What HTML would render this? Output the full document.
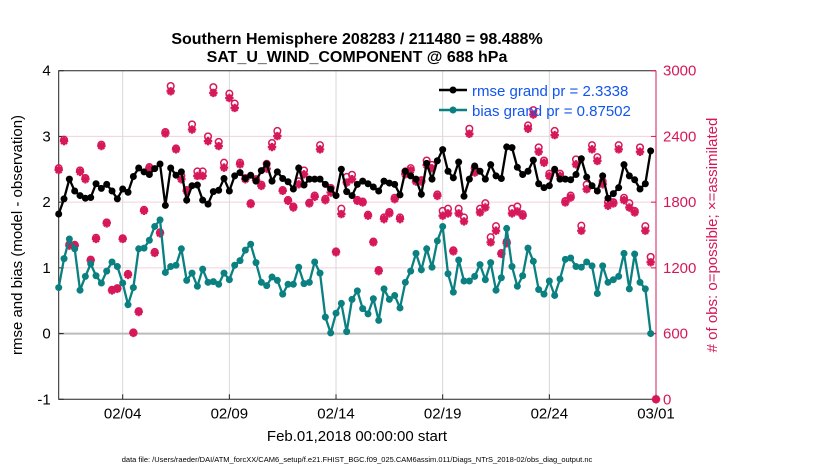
<!DOCTYPE html>
<html><head><meta charset="utf-8"><style>
body{margin:0;background:#fff;}
svg{display:block;font-family:"Liberation Sans",sans-serif;}
</style></head><body>
<svg id="chart" width="830" height="470">
<text x="357" y="44" text-anchor="middle" font-size="16" font-weight="bold">Southern Hemisphere 208283 / 211480 = 98.488%</text>
<text x="357" y="62" text-anchor="middle" font-size="16" font-weight="bold">SAT_U_WIND_COMPONENT @ 688 hPa</text>
<g id="grid"></g>
<g id="axes"></g>
<g id="marks"></g>
<text transform="translate(22,235) rotate(-90)" text-anchor="middle" font-size="15">rmse and bias (model - observation)</text>
<text transform="translate(717,235) rotate(-90)" text-anchor="middle" font-size="15" fill="#d6185a"># of obs: o=possible; ×=assimilated</text>
<text x="357" y="441" text-anchor="middle" font-size="15">Feb.01,2018 00:00:00 start</text>
<text x="357" y="462" text-anchor="middle" font-size="7.5">data file: /Users/raeder/DAI/ATM_forcXX/CAM6_setup/f.e21.FHIST_BGC.f09_025.CAM6assim.011/Diags_NTrS_2018-02/obs_diag_output.nc</text>
<g>
<line x1="439" y1="90" x2="467" y2="90" stroke="#000" stroke-width="2.5"/><circle cx="453" cy="90" r="3.5" fill="#000"/>
<text x="472" y="96" font-size="15" fill="#1155ee">rmse grand pr = 2.3338</text>
<line x1="439" y1="110" x2="467" y2="110" stroke="#0a8080" stroke-width="2.5"/><circle cx="453" cy="110" r="3.5" fill="#0a8080"/>
<text x="472" y="116" font-size="15" fill="#1155ee">bias grand pr = 0.87502</text>
</g>
</svg>
<script>
const xTickLabels=["02/04","02/09","02/14","02/19","02/24","03/01"];
const xTickDays=[3,8,13,18,23,28];
const leftTicks=[-1,0,1,2,3,4];
const rightTicks=[0,600,1200,1800,2400,3000];
const rmse=[1.82,2.05,2.35,2.17,2.10,2.06,2.07,2.28,2.21,2.27,2.17,2.05,2.20,2.15,2.39,2.52,2.46,2.42,2.51,2.58,1.95,2.52,2.41,2.46,2.03,2.25,2.26,2.03,1.97,2.16,2.18,2.36,2.17,2.40,2.45,2.36,2.41,2.32,2.48,2.58,2.32,2.46,2.36,2.31,2.20,2.52,2.26,2.35,2.35,2.35,2.27,2.20,2.10,2.50,2.16,2.10,2.27,
2.32,2.28,2.23,2.17,2.32,2.29,2.27,2.11,2.47,2.40,2.35,2.12,2.59,2.35,2.63,2.80,2.47,2.37,2.61,2.09,2.35,2.55,2.47,2.35,2.57,2.40,2.36,2.84,2.83,2.53,2.42,2.47,2.64,2.28,2.22,2.25,2.50,2.35,2.35,2.34,2.42,2.66,2.38,2.25,2.17,2.40,2.06,2.13,2.22,2.57,2.40,2.34,2.20,2.28,2.78];
const bias=[0.70,1.14,1.44,1.29,0.66,0.87,1.06,0.88,0.77,0.95,1.09,1.02,0.77,0.44,0.70,1.29,1.30,1.42,1.63,1.73,0.93,1.02,1.04,1.29,0.81,0.92,0.72,0.98,0.78,0.79,0.75,0.92,0.82,1.04,1.11,1.27,1.36,1.08,0.78,0.73,0.86,0.81,0.60,0.75,0.75,1.01,0.76,0.78,1.09,0.92,0.25,0.01,0.31,0.46,0.03,0.52,0.65,
0.38,0.30,0.53,0.20,0.68,0.52,0.58,0.39,0.78,0.95,1.22,0.97,1.29,1.01,1.41,1.63,0.91,0.63,1.12,0.80,0.80,0.87,1.05,0.82,1.08,0.66,0.85,1.60,1.02,0.72,0.88,1.30,1.10,0.67,0.60,0.80,0.58,0.83,1.13,1.15,1.02,1.01,1.09,1.03,0.61,1.03,0.78,0.82,0.87,1.22,0.68,1.21,0.78,0.68,0.00];
const assimilated=[2094,2357,1403,1403,2076,2009,1267,1464,2312,1606,994,1009,1464,1136,606,797,1721,2109,1336,1515,2427,2812,2282,2009,1903,2463,2039,2039,2357,2797,2312,2115,2751,2660,2145,2009,1782,2003,1948,2106,2303,2403,1903,1812,1751,1963,2054,1788,1848,2282,1818,1888,1342,1691,1979,2009,1812,
1797,1676,1433,1170,1645,1697,1827,1645,2054,2091,1988,1988,2139,2109,1857,1676,1697,1351,1697,1624,2424,2070,1706,1751,1433,1539,1327,1424,1697,1715,1676,2470,2600,2260,2160,2039,2412,2039,1797,1842,2145,1539,1918,2282,2176,1963,1767,1788,2282,1818,1751,1706,2260,1539,1251,0];
const possible=[2110,2370,1415,1410,2090,2020,1275,1475,2325,1615,1000,1015,1470,1145,610,805,1730,2120,1345,1525,2440,2860,2290,2040,1910,2510,2080,2080,2400,2850,2350,2160,2790,2700,2160,2020,1790,2010,1960,2150,2340,2450,1910,1820,1760,1990,2090,1795,1860,2320,1830,1930,1350,1740,2030,2050,1820,
1805,1685,1440,1180,1660,1710,1840,1660,2080,2110,2000,2000,2180,2140,1870,1720,1740,1360,1740,1660,2470,2110,1740,1790,1480,1580,1335,1440,1740,1760,1690,2500,2640,2300,2180,2060,2450,2060,1810,1860,2190,1585,1960,2320,2210,1990,1800,1800,2320,1840,1790,1720,2300,1580,1300,0];
const NS="http://www.w3.org/2000/svg";
const L=58.7,R=656,T=70.7,B=399.3,stepsPerDay=4,days=28;
const xd=d=>L+(R-L)*d/days;
const xi=i=>xd(i/stepsPerDay);
const yl=v=>B-(B-T)*(v+1)/5;
const yr=c=>B-(B-T)*c/3000;
const CR="#d6185a",TL="#0a8080";
function mk(tag,attrs,parent,txt){const e=document.createElementNS(NS,tag);for(const k in attrs)e.setAttribute(k,attrs[k]);if(txt!==undefined)e.textContent=txt;parent.appendChild(e);return e;}
const grid=document.getElementById('grid'),axes=document.getElementById('axes'),marks=document.getElementById('marks');
rightTicks.forEach(c=>{if(c>0&&c<3000){const g=mk('line',{x1:L,x2:R,y1:yr(c),y2:yr(c),stroke:'#f0d0dc','stroke-width':1},grid);

}});
xTickDays.forEach(d=>{if(d<days){const g=mk('line',{x1:xd(d),x2:xd(d),y1:T,y2:B,stroke:'#d8d8d8','stroke-width':1},grid);

}});
const zl=mk('line',{x1:L,x2:R,y1:yl(0),y2:yl(0),stroke:'#bbb','stroke-width':2},grid);


const fr=mk('path',{d:`M${R},${T}H${L}V${B}H${R}`,fill:'none',stroke:'#222','stroke-width':1},axes);


const ra=mk('line',{x1:R,x2:R,y1:T,y2:B,stroke:CR,'stroke-width':1},axes);


leftTicks.forEach(v=>{mk('line',{x1:L,x2:L+5,y1:yl(v),y2:yl(v),stroke:'#222'},axes);
const t=mk('text',{x:L-8,y:yl(v)+5,'text-anchor':'end','font-size':15},axes,String(v));

});
rightTicks.forEach(c=>{mk('line',{x1:R-5,x2:R,y1:yr(c),y2:yr(c),stroke:CR},axes);
const t=mk('text',{x:R+7,y:yr(c)+5,'font-size':15,fill:CR},axes,String(c));

});
xTickDays.forEach((d,i)=>{mk('line',{x1:xd(d),x2:xd(d),y1:B,y2:B-5,stroke:'#222'},axes);
const t=mk('text',{x:xd(d),y:B+19,'text-anchor':'middle','font-size':15},axes,xTickLabels[i]);

});
possible.forEach((c,i)=>{const cx=xi(i),cy=yr(c);
const o=mk('circle',{cx:cx,cy:cy,r:3.3,fill:'none',stroke:CR,'stroke-width':1.5},marks);

});
assimilated.forEach((c,i)=>{const cx=xi(i),cy=yr(c),s=4.2;
const a=mk('path',{d:`M${cx-s},${cy}H${cx+s}M${cx},${cy-s}V${cy+s}M${cx-s*.7},${cy-s*.7}L${cx+s*.7},${cy+s*.7}M${cx-s*.7},${cy+s*.7}L${cx+s*.7},${cy-s*.7}`,stroke:CR,'stroke-width':2.3},marks);

});
function series(vals,col,name){
const p=mk('polyline',{points:vals.map((v,i)=>xi(i)+','+yl(v)).join(' '),fill:'none',stroke:col,'stroke-width':2.3},marks);


vals.forEach((v,i)=>{const c=mk('circle',{cx:xi(i),cy:yl(v),r:3.5,fill:col},marks);

});}
series(rmse,'#000','rmse');
series(bias,TL,'bias');
</script>
</body></html>
